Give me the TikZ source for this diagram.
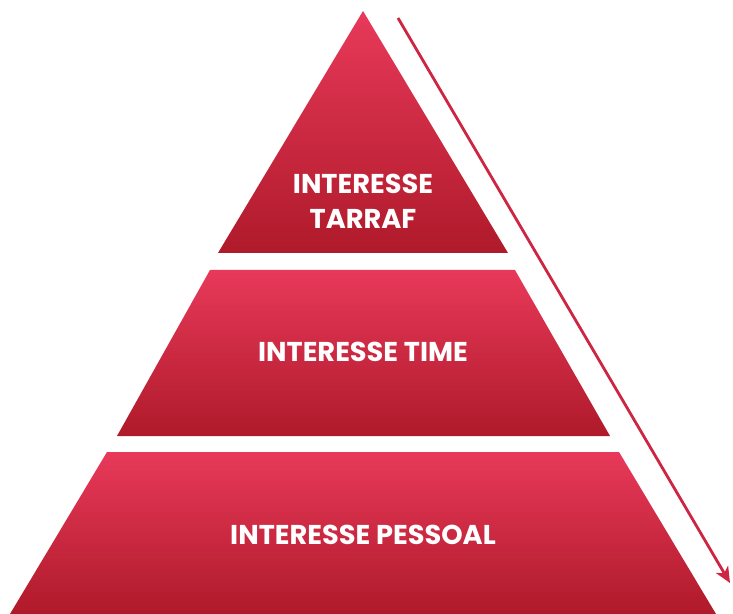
\documentclass[tikz,border=0pt]{standalone}
\usepackage{fontspec}
\setmainfont{Poppins}
\usetikzlibrary{arrows.meta}
\definecolor{pyrlight}{HTML}{E8395A}
\definecolor{pyrdark}{HTML}{AF1A2A}
\definecolor{arrowred}{HTML}{CC2643}
\tikzset{
x=0.02cm, y=-0.02cm, % one unit is one pixel of the reference
layer/.style={top color=pyrlight, bottom color=pyrdark}, % gradient of every layer
layertext/.style={text=white, font=\fontsize{15.5}{20}\selectfont\bfseries, align=center}, % white caps on the layers
>={Stealth[length=9pt, width=8pt, inset=2.5pt]}, % bold arrow head
}
\begin{document}
\begin{tikzpicture}
\useasboundingbox (0,0) rectangle (733,614);

% the three layers
\shade[layer] (363,11) -- (508,253) -- (218,253) -- cycle;
\shade[layer] (210,270) -- (515,270) -- (610,436) -- (117,436) -- cycle;
\shade[layer] (107,452) -- (619,452) -- (716,614) -- (10,614) -- cycle;

\node[layertext] (tarraf) at (363,201) {INTERESSE\\TARRAF};
\node[layertext] (time) at (363,352) {INTERESSE TIME};
\node[layertext] (pessoal) at (363,535) {INTERESSE PESSOAL};

% arrow along the right side
\coordinate (arrowstart) at (398,18);
\coordinate (arrowend) at (730,583);
\draw[->, arrowred, line width=1.6pt] (arrowstart) -- (arrowend);
\end{tikzpicture}
\end{document}
